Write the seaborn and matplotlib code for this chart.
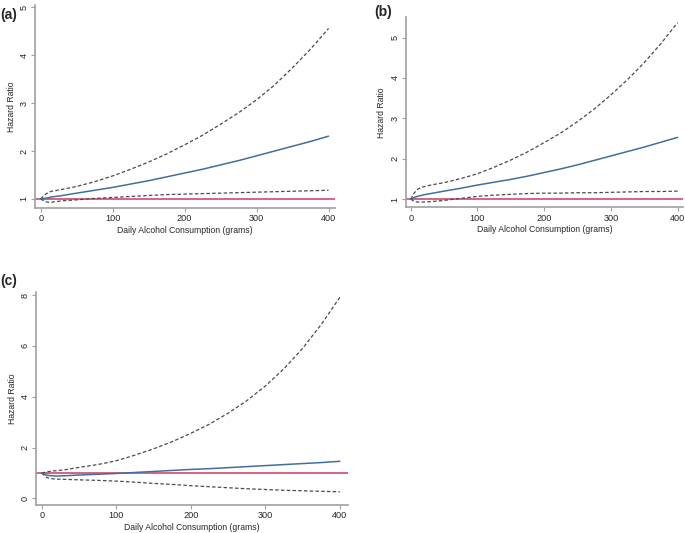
import numpy as np
import pandas as pd
import matplotlib
matplotlib.use("Agg")
import matplotlib.pyplot as plt
import seaborn as sns

# grams of alcohol per day where curves were read
grams = [0, 5, 10, 15, 20, 30, 50, 75, 100, 125, 150, 175, 200,
         225, 250, 275, 300, 325, 350, 375, 400]

# panel (a)
hr_a = [1.0, 1.01, 1.02, 1.04, 1.05, 1.07, 1.12, 1.18, 1.24, 1.31, 1.38, 1.46, 1.54,
        1.62, 1.71, 1.80, 1.90, 2.00, 2.10, 2.20, 2.31]
upper_a = [1.0, 1.08, 1.13, 1.16, 1.17, 1.20, 1.26, 1.36, 1.48, 1.62, 1.77, 1.94, 2.13,
           2.33, 2.56, 2.80, 3.07, 3.38, 3.74, 4.13, 4.56]
lower_a = [1.0, 0.95, 0.93, 0.93, 0.94, 0.96, 0.98, 1.01, 1.03, 1.05, 1.07, 1.09, 1.10,
           1.11, 1.12, 1.13, 1.14, 1.15, 1.16, 1.17, 1.18]

# panel (b)
hr_b = [1.0, 1.04, 1.07, 1.09, 1.11, 1.14, 1.20, 1.27, 1.35, 1.42, 1.49, 1.57, 1.66,
        1.75, 1.85, 1.96, 2.07, 2.18, 2.29, 2.41, 2.53]
upper_b = [1.0, 1.15, 1.24, 1.29, 1.31, 1.35, 1.41, 1.51, 1.63, 1.79, 1.97, 2.17, 2.40,
           2.64, 2.92, 3.23, 3.58, 3.96, 4.38, 4.85, 5.37]
lower_b = [1.0, 0.95, 0.93, 0.93, 0.93, 0.94, 0.97, 1.02, 1.07, 1.10, 1.12, 1.14, 1.15,
           1.15, 1.16, 1.16, 1.17, 1.18, 1.19, 1.19, 1.20]

# panel (c)
hr_c = [1.0, 0.93, 0.90, 0.89, 0.88, 0.89, 0.92, 0.95, 0.98, 1.02, 1.06, 1.10, 1.14,
        1.17, 1.21, 1.25, 1.29, 1.33, 1.37, 1.41, 1.46]
upper_c = [1.0, 1.03, 1.06, 1.08, 1.09, 1.12, 1.22, 1.33, 1.48, 1.70, 1.95, 2.23, 2.56,
           2.92, 3.35, 3.84, 4.42, 5.10, 5.90, 6.84, 7.91]
lower_c = [1.0, 0.85, 0.79, 0.77, 0.76, 0.75, 0.73, 0.71, 0.68, 0.64, 0.59, 0.55, 0.50,
           0.46, 0.42, 0.38, 0.35, 0.32, 0.30, 0.28, 0.26]

x_ticks = [0, 100, 200, 300, 400]
y_ticks_a = [1, 2, 3, 4, 5]
y_ticks_b = [1, 2, 3, 4, 5]
y_ticks_c = [0, 2, 4, 6, 8]

sns.set_style("white")
plt.rcParams["font.family"] = ["Liberation Sans", "DejaVu Sans"]

BLUE = "#3f6f9e"
RED = "#d6476e"
DASH = "#4a4a4a"
SPINE = "#a0a0a0"

fig = plt.figure(figsize=(6.85, 5.33), dpi=100)

panels = [
    ("(a)", [0.0511, 0.6098, 0.4380, 0.3808], hr_a, upper_a, lower_a, y_ticks_a, (0.81, 5.05), (-8, 409)),
    ("(b)", [0.5923, 0.6111, 0.4047, 0.3564], hr_b, upper_b, lower_b, y_ticks_b, (0.80, 5.5), (-7.5, 408)),
    ("(c)", [0.0526, 0.0525, 0.4555, 0.4002], hr_c, upper_c, lower_c, y_ticks_c, (-0.26, 8.13), (-7.6, 411)),
]

for label, rect, hr, up, lo, yt, ylim, xlim in panels:
    ax = fig.add_axes(rect)
    df = pd.DataFrame({"grams": grams, "hr": hr, "upper": up, "lower": lo})
    ax.axhline(1, color=RED, lw=1.2, zorder=1)
    sns.lineplot(data=df, x="grams", y="upper", ax=ax, color=DASH, lw=0.9,
                 linestyle=(0, (2.8, 1.8)))
    sns.lineplot(data=df, x="grams", y="lower", ax=ax, color=DASH, lw=0.9,
                 linestyle=(0, (2.8, 1.8)))
    sns.lineplot(data=df, x="grams", y="hr", ax=ax, color=BLUE, lw=1.1)

    ax.set_xlim(*xlim)
    ax.set_ylim(*ylim)
    ax.set_xticks(x_ticks)
    ax.set_yticks(yt)
    ax.set_xlabel("Daily Alcohol Consumption (grams)", fontsize=6.2, labelpad=2)
    ax.set_ylabel("Hazard Ratio", fontsize=6.2, labelpad=3)
    ax.tick_params(axis="both", length=3, width=0.8, color=SPINE, labelsize=6.6,
                   pad=1.5, bottom=True, left=True)
    for t in ax.get_yticklabels():
        t.set_rotation(90)
        t.set_va("center")
    for side in ["top", "right"]:
        ax.spines[side].set_visible(False)
    for side in ["left", "bottom"]:
        ax.spines[side].set_color(SPINE)
        ax.spines[side].set_linewidth(1.2)

fig.text(0.0, 0.985, "(a)", fontsize=10, fontweight="bold", va="top", ha="left")
fig.text(0.547, 0.99, "(b)", fontsize=10, fontweight="bold", va="top", ha="left")
fig.text(0.0, 0.485, "(c)", fontsize=10, fontweight="bold", va="top", ha="left")

fig.savefig("out.png", dpi=100)
